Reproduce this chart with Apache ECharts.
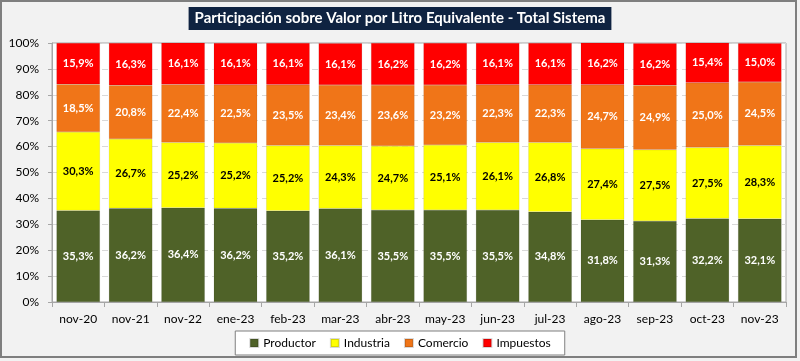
<!DOCTYPE html>
<html><head><meta charset="utf-8">
<script src="https://cdn.jsdelivr.net/npm/echarts@6/dist/echarts.min.js"></script>
<style>html,body{margin:0;padding:0;background:#f2f2f2}#c{width:800px;height:361px}</style>
</head><body><div id="c"></div>
<script>
const categories = ['nov-20','nov-21','nov-22','ene-23','feb-23','mar-23','abr-23','may-23','jun-23','jul-23','ago-23','sep-23','oct-23','nov-23'];
const productor = [35.3,36.2,36.4,36.2,35.2,36.1,35.5,35.5,35.5,34.8,31.8,31.3,32.2,32.1];
const industria = [30.3,26.7,25.2,25.2,25.2,24.3,24.7,25.1,26.1,26.8,27.4,27.5,27.5,28.3];
const comercio = [18.5,20.8,22.4,22.5,23.5,23.4,23.6,23.2,22.3,22.3,24.7,24.9,25.0,24.5];
const impuestos = [15.9,16.3,16.1,16.1,16.1,16.1,16.2,16.2,16.1,16.1,16.2,16.2,15.4,15.0];
const yTicks = [0,10,20,30,40,50,60,70,80,90,100];

const FONT = 'Lato';
function fmt(v){ return v.toFixed(1).replace('.', ',') + '%'; }
function mk(name, data, color, labelColor){
  return {
    name, type:'bar', stack:'t', data, barCategoryGap:'17%',
    itemStyle:{color, borderColor:'rgba(0,0,0,0.15)', borderWidth:0.5},
    label:{show:true, position:'inside', formatter:p=>fmt(p.value), color:labelColor, fontFamily:FONT, fontWeight:'bold', fontSize:11}
  };
}
const chart = echarts.init(document.getElementById('c'));
chart.setOption({
  backgroundColor:'#f2f2f2',
  animation:false,
  graphic:[
    {type:'rect', shape:{x:1,y:1,width:795,height:356}, style:{fill:'none', stroke:'#7f7f7f', lineWidth:2}, z:-1},
    {type:'rect', shape:{x:52,y:43,width:734,height:259}, style:{fill:'#ffffff', stroke:'#a6a6a6', lineWidth:1}, z:-1}
  ],
  title:{text:'Participación sobre Valor por Litro Equivalente - Total Sistema', left:'center', top:7,
    backgroundColor:'#0f2341', padding:[4,6,4,6],
    textStyle:{color:'#ffffff', fontFamily:FONT, fontWeight:'bold', fontSize:15}},
  legend:{data:['Productor','Industria','Comercio','Impuestos'], left:'center', top:331, itemWidth:8, itemHeight:8, itemGap:14,
    backgroundColor:'#ffffff', borderColor:'#7f7f7f', borderWidth:1, padding:[6,14,6,14],
    textStyle:{fontFamily:FONT, fontSize:12, color:'#000'}, icon:'rect'},
  grid:{left:52, right:14, top:43, bottom:59},
  xAxis:{type:'category', data:categories,
    axisLine:{lineStyle:{color:'#a6a6a6'}}, axisTick:{show:true, length:5, lineStyle:{color:'#a6a6a6'}},
    axisLabel:{fontFamily:FONT, fontSize:12, color:'#000', margin:11}},
  yAxis:{type:'value', min:0, max:100, interval:10,
    axisLine:{show:true, lineStyle:{color:'#a6a6a6'}}, axisTick:{show:true, length:4, lineStyle:{color:'#a6a6a6'}},
    splitLine:{lineStyle:{color:'#d9d9d9', type:[6,4]}},
    axisLabel:{formatter:v=>yTicks.includes(v)?v+'%':'', fontFamily:FONT, fontSize:12, color:'#000', margin:13}},
  series:[
    mk('Productor', productor, '#4f6228', '#ffffff'),
    mk('Industria', industria, '#ffff00', '#000000'),
    mk('Comercio', comercio, '#f07518', '#ffffff'),
    mk('Impuestos', impuestos, '#ff0000', '#ffffff')
  ]
});
</script></body></html>
